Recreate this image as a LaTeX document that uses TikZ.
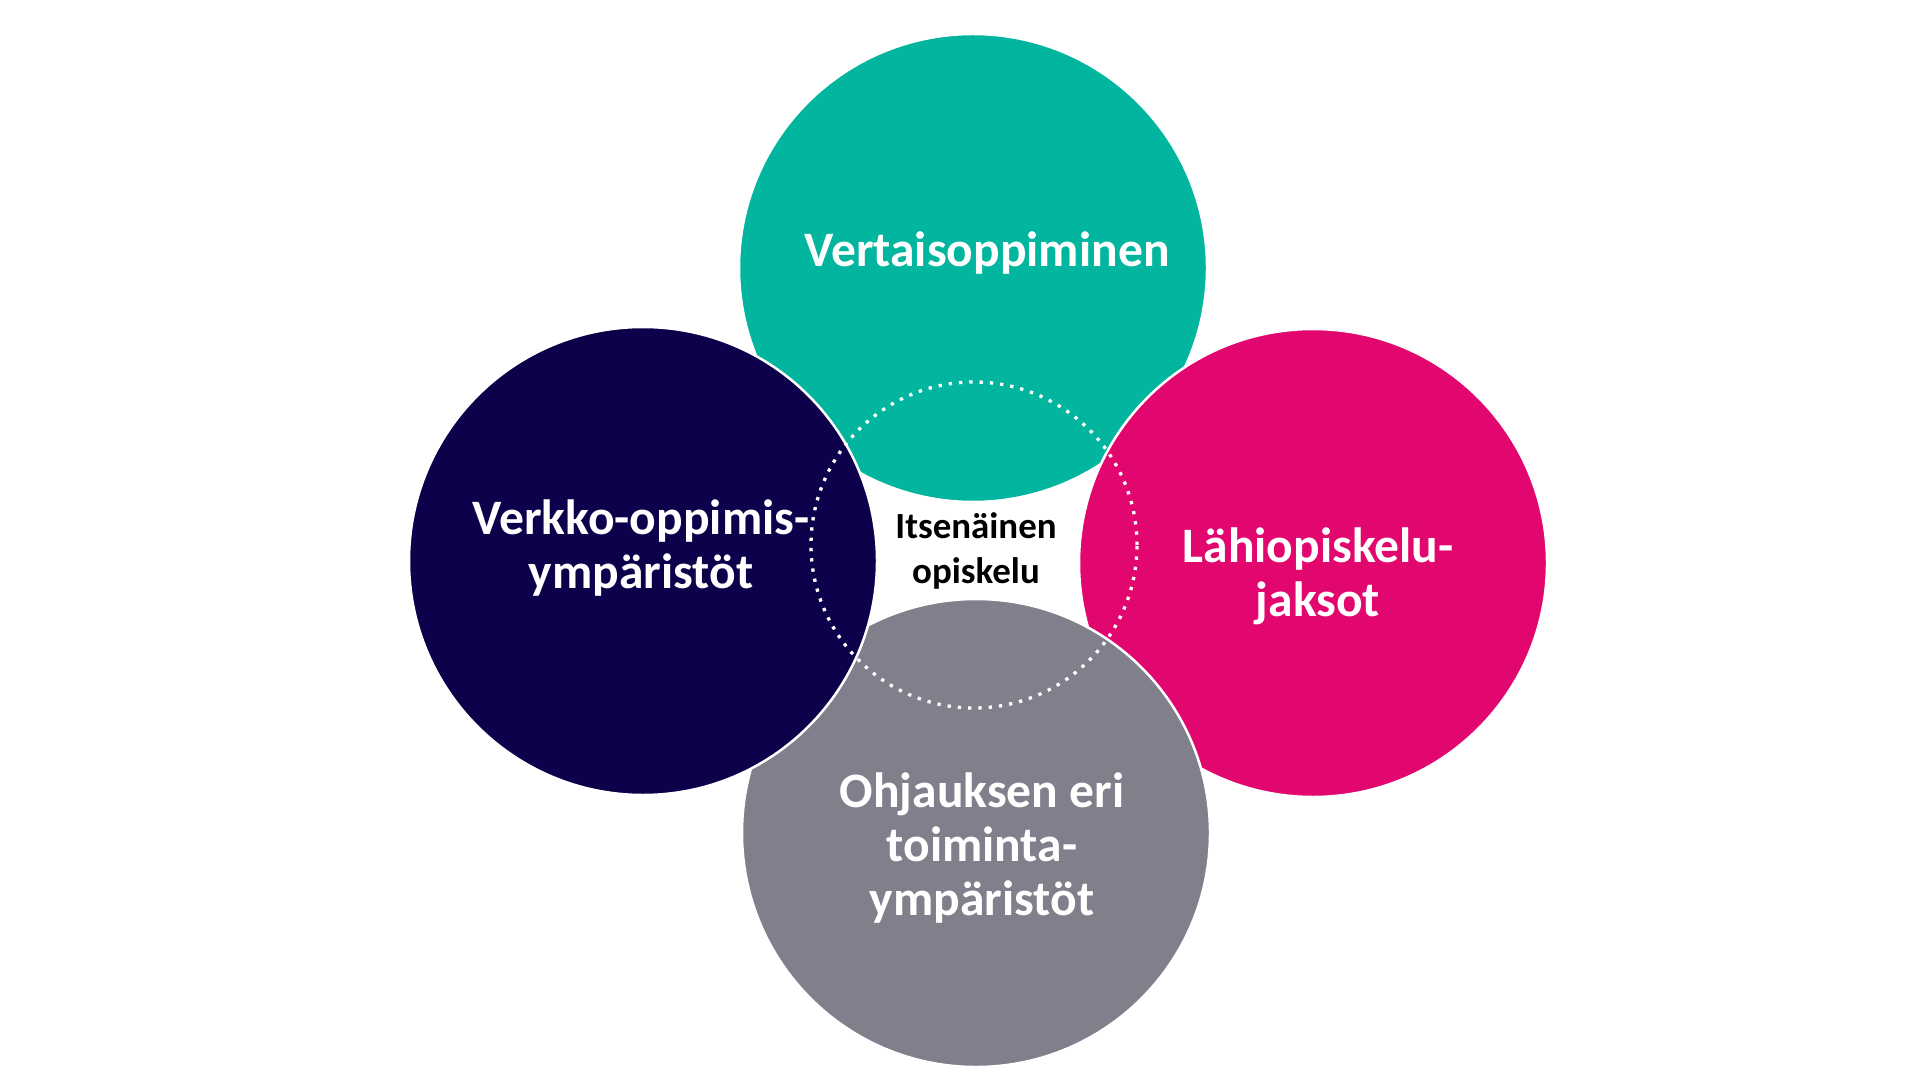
\documentclass[tikz,border=0pt]{standalone}
\usepackage{fontspec}
\setmainfont{Carlito}

\definecolor{vertaisgreen}{RGB}{2,181,159}
\definecolor{verkkoblue}{RGB}{14,0,75}
\definecolor{lahipink}{RGB}{226,7,111}
\definecolor{ohjausgrey}{RGB}{128,127,139}

\begin{document}
\begin{tikzpicture}
            \tikzstyle{blob}=[circle, minimum size=4.68cm, inner sep=0pt, draw=white, line width=0.025cm]
            \tikzstyle{ring}=[circle, minimum size=3.26cm, inner sep=0pt, draw=white, line width=0.033cm, dash pattern=on 0.033cm off 0.07cm]
            \tikzstyle{big text}=[text=white, align=center, font=\fontsize{14.1}{15.4}\selectfont\bfseries]
            \tikzstyle{small text}=[text=black, align=center, font=\fontsize{10.5}{12.8}\selectfont\bfseries]

            \useasboundingbox[fill=white] (0,0) rectangle (19.2,-10.8);

            \node[blob, fill=vertaisgreen] (vertais) at (9.73,-2.68)  {};
            \node[blob, fill=lahipink]     (lahi)    at (13.13,-5.63) {};
            \node[blob, fill=ohjausgrey]   (ohjaus)  at (9.76,-8.33)  {};
            \node[blob, fill=verkkoblue]   (verkko)  at (6.43,-5.61)  {};

            \node[ring] (itse) at (9.74,-5.45) {};

            \node[big text, anchor=base] (vertais-txt) at (9.87,-2.67) {Vertaisoppiminen};
            \node[big text]              (verkko-txt)  at (6.41,-5.48) {Verkko-oppimis-\\ympäristöt};
            \node[big text]              (lahi-txt)    at (13.18,-5.76) {Lähiopiskelu-\\jaksot};
            \node[big text]              (ohjaus-txt)  at (9.82,-8.48) {Ohjauksen eri\\toiminta-\\ympäristöt};
            \node[small text]            (itse-txt)    at (9.76,-5.51) {Itsenäinen\\opiskelu};
        \end{tikzpicture}
\end{document}
